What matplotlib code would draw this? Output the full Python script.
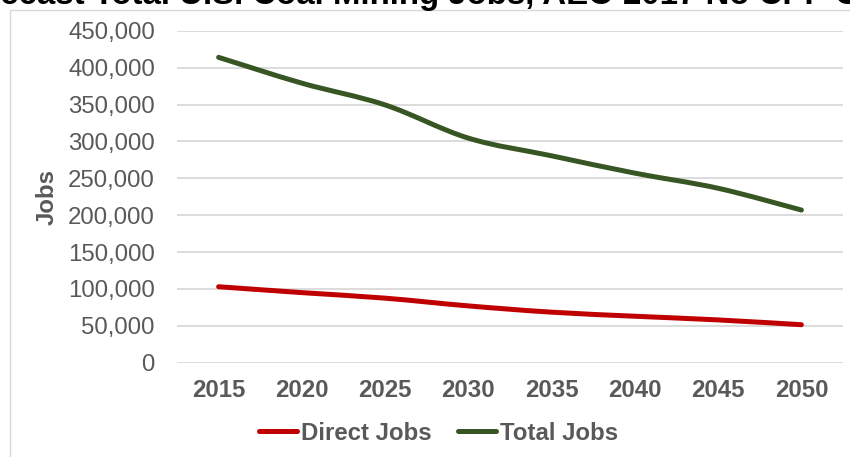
import matplotlib
matplotlib.use("Agg")
import matplotlib.pyplot as plt
from matplotlib.path import Path
from matplotlib.patches import PathPatch, Rectangle
from matplotlib.lines import Line2D
from matplotlib.ticker import FuncFormatter, MultipleLocator
import numpy as np

years = ["2015", "2020", "2025", "2030", "2035", "2040", "2045", "2050"]
direct_jobs = [103000, 95000, 87500, 77000, 68500, 63000, 58000, 51500]
total_jobs = [414000, 379000, 349500, 304500, 280500, 257000, 236500, 207000]
series_names = ["Direct Jobs", "Total Jobs"]
series_colors = ["#C00000", "#375623"]
title = "Forecast Total U.S. Coal Mining Jobs, AEO 2017 No CPP Case"

plt.rcParams['font.family'] = ['Liberation Sans', 'DejaVu Sans']

W, H = 850, 457
fig = plt.figure(figsize=(W / 100, H / 100), dpi=100)
fig.patch.set_facecolor("white")

# chart border
fig.patches.append(Rectangle((9.5 / W, -0.1), 1.2, 1.1 - 10 / H, transform=fig.transFigure,
                             fill=False, edgecolor="#D9D9D9", lw=1.0))

ax = fig.add_axes([177 / W, (H - 362.7) / H, (843 - 177) / W, (362.7 - 30.8) / H])
ax.set_facecolor("white")

gray = "#595959"
px = 0.72  # points per pixel at dpi 100


def smooth_path(xs, ys):
    pts = np.column_stack([xs, ys]).astype(float)
    n = len(pts)
    verts = [pts[0]]
    codes = [Path.MOVETO]
    for i in range(n - 1):
        p0 = pts[i - 1] if i > 0 else pts[i]
        p1 = pts[i]
        p2 = pts[i + 1]
        p3 = pts[i + 2] if i + 2 < n else pts[i + 1]
        c1 = p1 + (p2 - p0) / 6.0
        c2 = p2 - (p3 - p1) / 6.0
        verts += [c1, c2, p2]
        codes += [Path.CURVE4] * 3
    return Path(verts, codes)


x = np.arange(len(years))
for vals, color in zip([direct_jobs, total_jobs], series_colors):
    patch = PathPatch(smooth_path(x, vals), fill=False, edgecolor=color,
                      lw=5 * px, capstyle="round", joinstyle="round", zorder=3)
    ax.add_patch(patch)

ax.set_xlim(-0.5, len(years) - 0.5)
ax.set_ylim(0, 450000)
ax.yaxis.set_major_locator(MultipleLocator(50000))
ax.yaxis.set_major_formatter(FuncFormatter(lambda v, p: f"{int(v):,}"))
ax.set_xticks(x)
ax.set_xticklabels(years)
ax.grid(axis="y", color="#D9D9D9", lw=1.3)
ax.set_axisbelow(True)
for s in ax.spines.values():
    s.set_visible(False)
ax.tick_params(axis="both", length=0)
ax.tick_params(axis="y", labelsize=24 * px, labelcolor=gray, pad=22 * px)
ax.tick_params(axis="x", labelsize=24 * px, labelcolor=gray, pad=16 * px)
for lab in ax.get_xticklabels():
    lab.set_fontweight("bold")

fig.text(47 / W, 1 - 197 / H, "Jobs", rotation=90, ha="center", va="center",
         fontsize=24 * px, fontweight="bold", color=gray)

fig.text(430 / W, 1 - 4 / H, title, ha="center", va="baseline",
         fontsize=33 * px, fontweight="bold", color="black")

handles = [Line2D([], [], color=c, lw=5 * px, solid_capstyle="round") for c in series_colors]
leg = fig.legend(handles, series_names, loc="center", bbox_to_anchor=(438.5 / W, 1 - 433 / H),
                 ncol=2, frameon=False, handlelength=1.58, handletextpad=0.17,
                 columnspacing=1.1, prop={"size": 24 * px, "weight": "bold"})
for t in leg.get_texts():
    t.set_color(gray)

fig.savefig("out.png", dpi=100, facecolor="white")
